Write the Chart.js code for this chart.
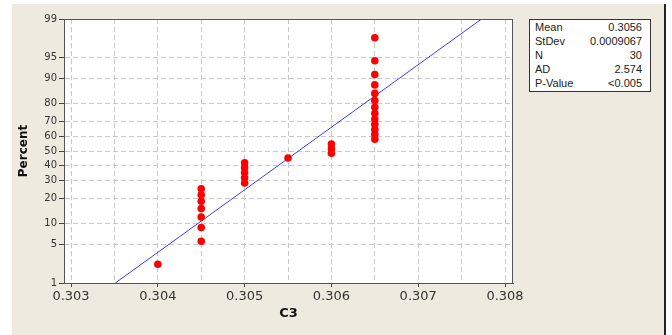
<!DOCTYPE html>
<html>
<head>
<meta charset="utf-8">
<script src="https://cdn.jsdelivr.net/npm/chart.js@4.4.0/dist/chart.umd.min.js"></script>
<style>
  html, body { margin: 0; padding: 0; background: #fff; }
  #wrap { position: relative; width: 672px; height: 335px; }
  #myChart { position: absolute; left: 0; top: 0; }
  #stats {
    position: absolute; left: 529px; top: 19px; width: 120px; height: 71px;
    background: #fff; border: 1px solid #333;
    font: 11px "Liberation Sans", Arial, sans-serif; color: #222;
  }
  #stats .row { display: flex; justify-content: space-between; height: 14px; line-height: 14px; padding: 0 8px 0 5px; }
</style>
</head>
<body>
<div id="wrap">
  <canvas id="myChart" width="672" height="335"></canvas>
  <div id="stats">
    <div class="row"><span>Mean</span><span>0.3056</span></div>
    <div class="row"><span>StDev</span><span>0.0009067</span></div>
    <div class="row"><span>N</span><span>30</span></div>
    <div class="row"><span>AD</span><span>2.574</span></div>
    <div class="row"><span>P-Value</span><span>&lt;0.005</span></div>
  </div>
</div>
<script>
// C3 observations, sorted
const c3Values = [
  0.304,
  0.3045, 0.3045, 0.3045, 0.3045, 0.3045, 0.3045, 0.3045,
  0.305, 0.305, 0.305, 0.305, 0.305,
  0.3055,
  0.306, 0.306, 0.306,
  0.3065, 0.3065, 0.3065, 0.3065, 0.3065, 0.3065, 0.3065,
  0.3065, 0.3065, 0.3065, 0.3065, 0.3065, 0.3065
];
// plotting position (percent) of each point
const c3Percent = [
  2.3,
  5.6, 8.9, 12.2, 15.5, 18.8, 22.0, 25.3,
  28.6, 31.9, 35.2, 38.5, 41.8,
  45.1,
  48.4, 51.6, 54.9,
  58.2, 61.5, 64.8, 68.1, 71.4, 74.7, 78.0,
  81.3, 84.5, 87.8, 91.1, 94.4, 97.7
];
// fitted normal line end points
const fitX = [0.30351, 0.30773];
const fitPercent = [1, 99];

const xTicks = [0.303, 0.3035, 0.304, 0.3045, 0.305, 0.3055, 0.306, 0.3065, 0.307, 0.3075, 0.308];
const yTicks = [1, 5, 10, 20, 30, 40, 50, 60, 70, 80, 90, 95, 99];

// inverse normal cdf (Acklam)
function probit(p) {
  const a = [-39.69683028665376, 220.9460984245205, -275.9285104469687, 138.3577518672690, -30.66479806614716, 2.506628277459239];
  const b = [-54.47609879822406, 161.5858368580409, -155.6989798598866, 66.80131188771972, -13.28068155288572];
  const c = [-0.007784894002430293, -0.3223964580411365, -2.400758277161838, -2.549732539343734, 4.374664141464968, 2.938163982698783];
  const d = [0.007784695709041462, 0.3224671290700398, 2.445134137142996, 3.754408661907416];
  const pl = 0.02425;
  let q, r;
  if (p < pl) {
    q = Math.sqrt(-2 * Math.log(p));
    return (((((c[0]*q+c[1])*q+c[2])*q+c[3])*q+c[4])*q+c[5]) / ((((d[0]*q+d[1])*q+d[2])*q+d[3])*q+1);
  }
  if (p > 1 - pl) {
    q = Math.sqrt(-2 * Math.log(1 - p));
    return -(((((c[0]*q+c[1])*q+c[2])*q+c[3])*q+c[4])*q+c[5]) / ((((d[0]*q+d[1])*q+d[2])*q+d[3])*q+1);
  }
  q = p - 0.5;
  r = q * q;
  return (((((a[0]*r+a[1])*r+a[2])*r+a[3])*r+a[4])*r+a[5])*q / (((((b[0]*r+b[1])*r+b[2])*r+b[3])*r+b[4])*r+1);
}

function normCdf(z) {
  const t = 1 / (1 + 0.3275911 * Math.abs(z) / Math.SQRT2);
  const y = 1 - (((((1.061405429*t - 1.453152027)*t) + 1.421413741)*t - 0.284496736)*t + 0.254829592)*t * Math.exp(-z*z/2);
  return z >= 0 ? (1 + y) / 2 : (1 - y) / 2;
}

// probability (percent) axis
class ProbitScale extends Chart.Scale {
  determineDataLimits() {
    this.min = this.options.min;
    this.max = this.options.max;
  }
  buildTicks() {
    return yTicks.map(v => ({ value: v }));
  }
  getLabelForValue(v) {
    return String(v);
  }
  configure() {
    super.configure();
    this._zLo = probit(this.min / 100);
    this._zHi = probit(this.max / 100);
  }
  getPixelForValue(v) {
    return this.getPixelForDecimal((probit(v / 100) - this._zLo) / (this._zHi - this._zLo));
  }
  getValueForPixel(px) {
    return normCdf(this._zLo + this.getDecimalForPixel(px) * (this._zHi - this._zLo)) * 100;
  }
}
ProbitScale.id = 'probit';
ProbitScale.defaults = {};
Chart.register(ProbitScale);

const frame = {
  id: 'frame',
  beforeDraw(chart) {
    const ctx = chart.ctx;
    const a = chart.chartArea;
    ctx.save();
    ctx.fillStyle = '#ffffff';
    ctx.fillRect(0, 0, chart.width, chart.height);
    ctx.fillStyle = '#eeeae0';
    ctx.fillRect(12, 4, 652, 331);
    ctx.fillStyle = '#222222';
    ctx.fillRect(664, 4, 2, 331);
    ctx.fillStyle = '#ffffff';
    ctx.fillRect(a.left, a.top, a.right - a.left, a.bottom - a.top);
    ctx.restore();
  },
  afterDraw(chart) {
    const ctx = chart.ctx;
    const a = chart.chartArea;
    ctx.save();
    ctx.strokeStyle = '#555555';
    ctx.lineWidth = 1;
    ctx.strokeRect(a.left + 0.5, a.top + 0.5, a.right - a.left - 1, a.bottom - a.top);
    ctx.restore();
  }
};

const points = c3Values.map((v, i) => ({ x: v, y: c3Percent[i] }));
const fitLine = fitX.map((v, i) => ({ x: v, y: fitPercent[i] }));

new Chart('myChart', {
  type: 'scatter',
  data: {
    datasets: [
      {
        data: fitLine,
        showLine: true,
        borderColor: '#3c3cff',
        borderWidth: 1,
        pointRadius: 0,
        order: 2
      },
      {
        data: points,
        backgroundColor: '#ff0000',
        borderWidth: 0,
        pointRadius: 3.8,
        order: 1
      }
    ]
  },
  options: {
    responsive: false,
    animation: false,
    layout: { padding: { left: 0, right: 159, top: 19, bottom: 0 } },
    plugins: { legend: { display: false }, tooltip: { enabled: false } },
    scales: {
      x: {
        type: 'linear',
        min: 0.302919,
        max: 0.308092,
        afterBuildTicks: s => { s.ticks = xTicks.map(v => ({ value: v })); },
        afterFit: s => { s.height = 52; },
        ticks: {
          autoSkip: false,
          maxRotation: 0,
          padding: 2,
          color: '#333333',
          font: { family: 'DejaVu Sans', size: 13 },
          callback: v => (Math.round(v * 2000) % 2 === 0 ? v.toFixed(3) : '')
        },
        grid: {
          color: '#c8c8c8',
          tickLength: 4,
          tickColor: c => (c.tick && c.tick.label ? '#444444' : 'rgba(0,0,0,0)')
        },
        border: { color: '#555555', dash: [5, 3] },
        title: {
          display: true,
          text: 'C3',
          color: '#111111',
          font: { family: 'DejaVu Sans', size: 13, weight: 'bold' },
          padding: { top: 0, bottom: 14 }
        }
      },
      y: {
        type: 'probit',
        min: 1,
        max: 99,
        afterFit: s => { s.width = 64; },
        ticks: {
          autoSkip: false,
          padding: 2,
          color: '#333333',
          font: { family: 'DejaVu Sans', size: 10 }
        },
        grid: { color: '#c8c8c8', tickLength: 5, tickColor: '#444444' },
        border: { color: '#555555', dash: [5, 3] },
        title: {
          display: true,
          text: 'Percent',
          color: '#111111',
          font: { family: 'DejaVu Sans', size: 12, weight: 'bold' },
          padding: { top: 17, bottom: 0 }
        }
      }
    }
  },
  plugins: [frame]
});
</script>
</body>
</html>
